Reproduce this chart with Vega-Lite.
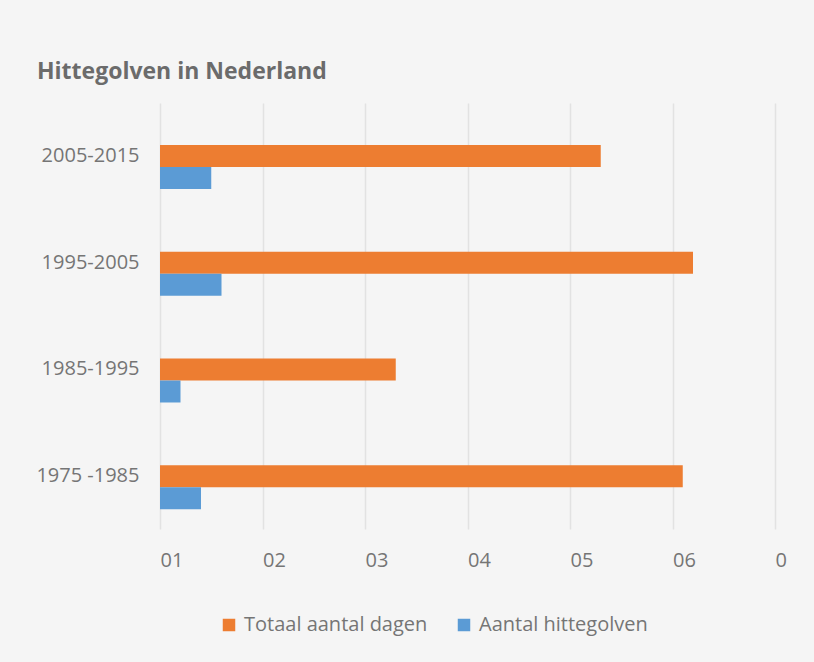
{
  "$schema": "https://vega.github.io/schema/vega-lite/v6.json",
  "autosize": "none",
  "width": 615,
  "height": 426,
  "padding": {"left": 160, "top": 103, "right": 39, "bottom": 133},
  "background": "#f5f5f5",
  "title": {
    "text": "Hittegolven in Nederland",
    "anchor": "start",
    "frame": "group",
    "dx": -123,
    "dy": 25,
    "offset": 26,
    "baseline": "alphabetic",
    "font": "Open Sans",
    "fontSize": 23,
    "fontWeight": "bold",
    "color": "#6b6b6b"
  },
  "data": {
    "values": [
      {"periode": "2005-2015", "reeks": "Totaal aantal dagen", "waarde": 43},
      {"periode": "2005-2015", "reeks": "Aantal hittegolven", "waarde": 5},
      {"periode": "1995-2005", "reeks": "Totaal aantal dagen", "waarde": 52},
      {"periode": "1995-2005", "reeks": "Aantal hittegolven", "waarde": 6},
      {"periode": "1985-1995", "reeks": "Totaal aantal dagen", "waarde": 23},
      {"periode": "1985-1995", "reeks": "Aantal hittegolven", "waarde": 2},
      {"periode": "1975 -1985", "reeks": "Totaal aantal dagen", "waarde": 51},
      {"periode": "1975 -1985", "reeks": "Aantal hittegolven", "waarde": 4}
    ]
  },
  "mark": {"type": "bar"},
  "encoding": {
    "y": {
      "field": "periode",
      "type": "nominal",
      "sort": null,
      "title": null,
      "scale": {"paddingInner": 0.5876, "paddingOuter": 0.29, "align": 0.68},
      "axis": {
        "domain": false,
        "ticks": false,
        "grid": false,
        "labelPadding": 21,
        "labelOffset": -11,
        "labelFont": "Open Sans",
        "labelFontSize": 20,
        "labelColor": "#757575"
      }
    },
    "x": {
      "field": "waarde",
      "type": "quantitative",
      "title": null,
      "scale": {"domain": [0, 60], "nice": false},
      "axis": {
        "values": [0, 10, 20, 30, 40, 50, 60],
        "labelExpr": "datum.value == 60 ? '0' : '0' + (datum.value / 10 + 1)",
        "domain": false,
        "ticks": false,
        "grid": true,
        "gridColor": "#e2e2e2",
        "gridWidth": 1.5,
        "labelAlign": "left",
        "labelBaseline": "top",
        "labelPadding": 21,
        "labelFont": "Open Sans",
        "labelFontSize": 20,
        "labelColor": "#757575",
        "labelFlush": false,
        "labelOverlap": false
      }
    },
    "yOffset": {
      "field": "reeks",
      "type": "nominal",
      "sort": ["Totaal aantal dagen", "Aantal hittegolven"],
      "scale": {"paddingInner": 0, "paddingOuter": 0}
    },
    "color": {
      "field": "reeks",
      "type": "nominal",
      "sort": ["Totaal aantal dagen", "Aantal hittegolven"],
      "scale": {"domain": ["Totaal aantal dagen", "Aantal hittegolven"], "range": ["#ed7d31", "#5b9bd5"]},
      "legend": {
        "title": null,
        "orient": "none",
        "legendX": 59,
        "legendY": 512,
        "direction": "horizontal",
        "symbolType": "square",
        "symbolSize": 156,
        "symbolStrokeWidth": 0,
        "labelFont": "Open Sans",
        "labelFontSize": 20,
        "labelColor": "#757575",
        "labelOffset": 5,
        "columnPadding": 26,
        "labelLimit": 400
      }
    }
  },
  "config": {
    "view": {"stroke": null}
  }
}
